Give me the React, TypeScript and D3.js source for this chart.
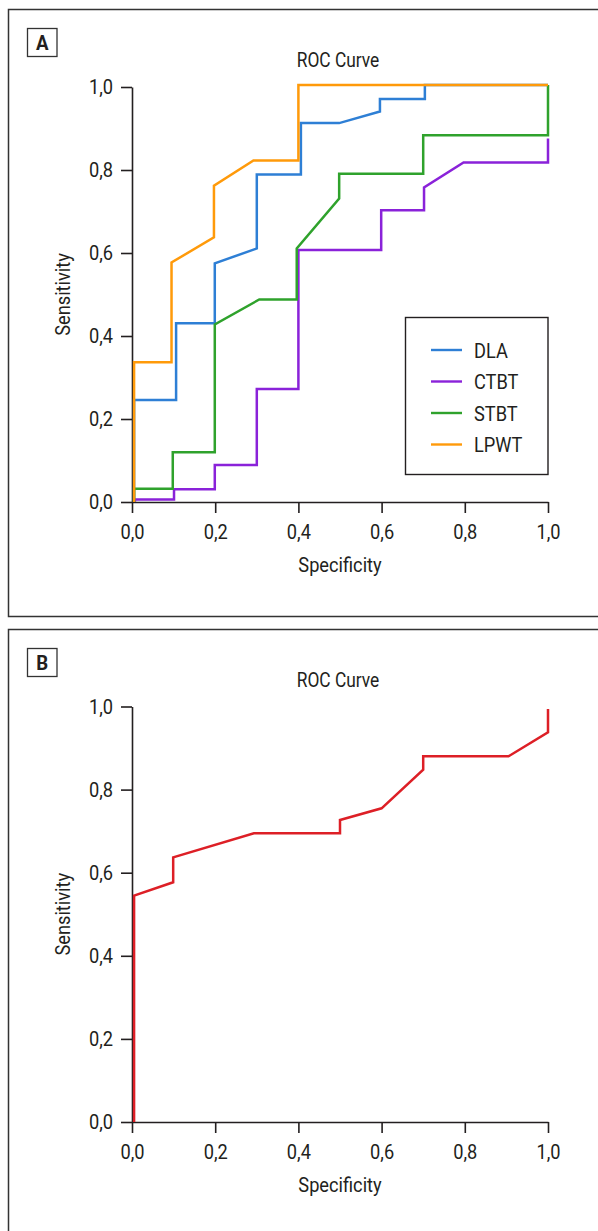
import React, { useEffect, useRef } from "react";
import * as d3 from "d3";

// ---------- DATA ----------
const xTicks = [0, 0.2, 0.4, 0.6, 0.8, 1.0];
const yTicks = [0, 0.2, 0.4, 0.6, 0.8, 1.0];

const seriesNames = ["DLA", "CTBT", "STBT", "LPWT"];
const seriesColors = ["#2e7fd5", "#8a22d9", "#2fa22c", "#ff9a0a"];

// [specificity, sensitivity]
const dlaPoints: [number, number][] = [
  [0.005, 0], [0.005, 0.246], [0.106, 0.246], [0.106, 0.431], [0.199, 0.431], [0.199, 0.575],
  [0.30, 0.611], [0.30, 0.789], [0.406, 0.789], [0.406, 0.913], [0.498, 0.913], [0.596, 0.941],
  [0.596, 0.971], [0.704, 0.971], [0.704, 1.005], [1.0, 1.005],
];
const ctbtPoints: [number, number][] = [
  [0.007, 0], [0.007, 0.006], [0.101, 0.006], [0.101, 0.031], [0.199, 0.031], [0.199, 0.089],
  [0.30, 0.089], [0.30, 0.272], [0.40, 0.272], [0.40, 0.607], [0.599, 0.607], [0.599, 0.703],
  [0.702, 0.703], [0.702, 0.758], [0.797, 0.818], [1.0, 0.818], [1.0, 0.876],
];
const stbtPoints: [number, number][] = [
  [0.005, 0], [0.005, 0.032], [0.098, 0.032], [0.098, 0.120], [0.199, 0.120], [0.199, 0.428],
  [0.306, 0.488], [0.396, 0.488], [0.396, 0.611], [0.498, 0.731], [0.498, 0.791], [0.70, 0.791],
  [0.70, 0.884], [1.0, 0.884], [1.0, 1.005],
];
const lpwtPoints: [number, number][] = [
  [0.005, 0], [0.005, 0.337], [0.095, 0.337], [0.095, 0.577], [0.197, 0.638], [0.197, 0.762],
  [0.292, 0.823], [0.40, 0.823], [0.40, 1.005], [1.0, 1.005],
];
const seriesA = [dlaPoints, ctbtPoints, stbtPoints, lpwtPoints];

const panelBPoints: [number, number][] = [
  [0.005, 0], [0.005, 0.545], [0.099, 0.577], [0.099, 0.637], [0.293, 0.695], [0.50, 0.695],
  [0.50, 0.727], [0.600, 0.755], [0.70, 0.848], [0.70, 0.880], [0.905, 0.880], [1.0, 0.938],
  [1.0, 0.994],
];
const panelBColor = "#dd1f26";

const titleText = "ROC Curve";
const xLabel = "Specificity";
const yLabel = "Sensitivity";

const FONT = "Roboto, 'Liberation Sans', sans-serif";
const SX = 0.89; // horizontal condensing
const fmt = (v: number) => v.toFixed(1).replace(".", ",");

function CText({ x, y, size, anchor = "start", rotate = 0, weight = "normal", children }: any) {
  return (
    <g transform={`translate(${x},${y}) rotate(${rotate}) scale(${SX},1)`}>
      <text x={0} y={0} textAnchor={anchor} fontFamily={FONT} fontSize={size} fontWeight={weight} fill="#231f20">{children}</text>
    </g>
  );
}

type PanelProps = {
  letter: string;
  top: number;
  yTop: number;
  yBottom: number;
  series: [number, number][][];
  colors: string[];
  legend: boolean;
};

function Panel({ letter, top, yTop, yBottom, series, colors, legend }: PanelProps) {
  const xAxisRef = useRef<SVGGElement>(null);
  const yAxisRef = useRef<SVGGElement>(null);
  const x = d3.scaleLinear().domain([0, 1]).range([132, 548]);
  const y = d3.scaleLinear().domain([0, 1]).range([yBottom, yTop]);

  useEffect(() => {
    const xa = d3.axisBottom(x).tickValues(xTicks).tickFormat((d) => fmt(+d)).tickSize(11).tickSizeOuter(0).tickPadding(11);
    const ya = d3.axisLeft(y).tickValues(yTicks).tickFormat((d) => fmt(+d)).tickSize(11).tickSizeOuter(0).tickPadding(8);
    const gx = d3.select(xAxisRef.current!);
    gx.call(xa as any);
    const gy = d3.select(yAxisRef.current!);
    gy.call(ya as any);
    [gx, gy].forEach((g) => {
      g.selectAll("path,line").attr("stroke", "#231f20").attr("stroke-width", 1.6);
      g.selectAll("text")
        .attr("fill", "#231f20")
        .style("font-family", FONT)
        .style("font-size", "20.5px")
        .attr("x", function () {
          const v = +(d3.select(this).attr("x") || 0);
          return v / SX;
        })
        .attr("transform", `scale(${SX},1)`);
    });
  });

  const line = d3.line<[number, number]>().x((d) => x(d[0])).y((d) => y(d[1]));
  const cx = 340;

  return (
    <g>
      <rect x={8.5} y={top + 0.5} width={620} height={letter === "A" ? 607 : 640} fill="none" stroke="#333" strokeWidth={1.5} />
      <rect x={27.5} y={top + 19.5} width={29.5} height={28} fill="none" stroke="#333" strokeWidth={1.3} />
      <CText x={42.3} y={top + 41} size={21} anchor="middle" weight="bold">{letter}</CText>
      <CText x={cx - 2} y={yTop - 20} size={19.5} anchor="middle">{titleText}</CText>
      <g ref={xAxisRef} transform={`translate(0,${yBottom})`} />
      <g ref={yAxisRef} transform={`translate(132,0)`} />
      <CText x={cx} y={yBottom + 70} size={20.5} anchor="middle">{xLabel}</CText>
      <CText x={70} y={(yTop + yBottom) / 2} size={20.5} anchor="middle" rotate={-90}>{yLabel}</CText>
      {series.map((pts, i) => (
        <path key={i} d={line(pts) || ""} fill="none" stroke={colors[i]} strokeWidth={2.5} strokeLinejoin="miter" />
      ))}
      {legend && (
        <g>
          <rect x={405.5} y={317.5} width={142.5} height={157} fill="#fff" stroke="#231f20" strokeWidth={1.4} />
          {seriesNames.map((n, i) => (
            <g key={n}>
              <line x1={431} x2={462} y1={350 + i * 31.5} y2={350 + i * 31.5} stroke={colors[i]} strokeWidth={2.4} />
              <CText x={474} y={350 + i * 31.5 + 7.5} size={20.5}>{n}</CText>
            </g>
          ))}
        </g>
      )}
    </g>
  );
}

export default function App() {
  return (
    <svg width={598} height={1231} style={{ position: "absolute", left: 0, top: 0, background: "#fff" }}>
      <rect x={0} y={0} width={598} height={1231} fill="#fff" />
      <Panel letter="A" top={9} yTop={87} yBottom={502} series={seriesA} colors={seriesColors} legend={true} />
      <Panel letter="B" top={629} yTop={706.5} yBottom={1122} series={[panelBPoints]} colors={[panelBColor]} legend={false} />
    </svg>
  );
}
